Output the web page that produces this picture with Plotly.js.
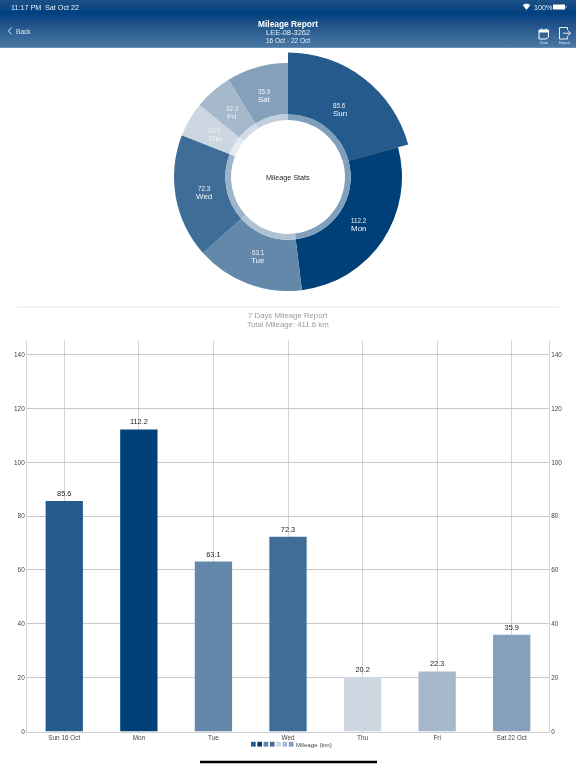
<!DOCTYPE html>
<html>
<head>
<meta charset="utf-8">
<script src="https://cdn.plot.ly/plotly-3.0.1.min.js"></script>
<style>
html,body{margin:0;padding:0;background:#fff;width:576px;height:768px;overflow:hidden}
#band{position:absolute;left:0;top:0;width:576px;height:48px;
background:linear-gradient(to bottom,#1c5186 0px,#004080 13px,#1f5288 24px,#4a78a4 47px,#7f9fbf 48px)}
#chart{position:absolute;left:0;top:0;width:576px;height:768px;filter:blur(0.3px)}
</style>
</head>
<body>
<div id="band"></div>
<div id="chart"></div>
<script>
const days = ["Sun","Mon","Tue","Wed","Thu","Fri","Sat"];
const barLabels = ["Sun 16 Oct","Mon","Tue","Wed","Thu","Fri","Sat 22 Oct"];
const mileage = [85.6,112.2,63.1,72.3,20.2,22.3,35.9];
const colors = ["#255b8c","#004079","#6388aa","#3e6e97","#ccd7e1","#a6b9cc","#85a0bb"];
const ringColors = ["#7f9fbc","#7f9fbc","#afc2d3","#9cb5cb","#e5ebf0","#d2dce5","#c0cfdd"];
const yTicks = [0,20,40,60,80,100,120,140];

const W = 576, H = 768, FONT = "'Liberation Sans', Arial, sans-serif";
const cx = 288, cy = 177;
const px = x => x / W, py = y => 1 - y / H;
const dom = r => ({x:[px(cx-r),px(cx+r)], y:[py(cy+r),py(cy-r)]});
const total = mileage.reduce((a,b)=>a+b,0);

function pie(r, hole, cols){
  return {type:"pie", values:mileage, labels:days, sort:false, direction:"clockwise", rotation:0,
    domain:dom(r), hole:hole, textinfo:"none", hoverinfo:"label+value", showlegend:false,
    automargin:false, marker:{colors:cols, line:{width:0}}};
}
const clear = "rgba(0,0,0,0)";
const traces = [
  pie(114, 62.7/114, colors),
  pie(124.5, 62.7/124.5, colors.map((c,i)=> i===0 ? c : clear)),
  pie(62.7, 57/62.7, ringColors),
  {type:"bar", x:barLabels, y:mileage, width:0.5, marker:{color:colors, line:{width:0}},
   text:mileage.map(v=>v.toFixed(1)), textposition:"outside", cliponaxis:false,
   textfont:{family:FONT,size:7.4,color:"#222"}, showlegend:false, xaxis:"x", yaxis:"y"},
  {type:"bar", x:barLabels, y:mileage, width:0.5, marker:{color:clear}, hoverinfo:"skip",
   showlegend:false, xaxis:"x", yaxis:"y2"}
];

const note = (x,y,text,size,color,extra) => Object.assign({xref:"paper",yref:"paper",x:px(x),y:py(y),
  text:text,showarrow:false,xanchor:"center",yanchor:"middle",
  font:{family:FONT,size:size,color:color}},extra||{});

const annotations = [
  note(9,7,"11:17 PM",7.2,"#e8eef5",{xanchor:"left"}),
  note(42.5,7,"Sat Oct 22",7.2,"#e8eef5",{xanchor:"left"}),
  note(532,7,"100%",7.2,"#e8eef5",{xanchor:"left"}),
  note(13.5,31,"Back",6.6,"#dfe7f0",{xanchor:"left"}),
  note(288,24,"<b>Mileage Report</b>",8.4,"#ffffff"),
  note(288,32.5,"LEE-08-3262",7.5,"#e8eef5"),
  note(288,40,"16 Oct - 22 Oct",6.5,"#e8eef5"),
  note(544,43,"Date",3.8,"#dfe7f0"),
  note(565,43,"Export",3.8,"#dfe7f0"),
  note(288,177.5,"Mileage Stats",7.2,"#222222"),
  note(288,315,"7 Days Mileage Report",7.8,"#9a9a9a"),
  note(288,324,"Total Mileage: 411.6 km",7.8,"#9a9a9a"),
  note(293.5,744.5,"Mileage (km)",6.2,"#444444",{xanchor:"left"})
];
let run = 0;
mileage.forEach((v,i)=>{
  const a = (run + v/2) / total * 2 * Math.PI; run += v;
  const lx = cx + 85*Math.sin(a), ly = cy - 85*Math.cos(a);
  annotations.push(note(lx, ly-4, v.toFixed(1), 6.3, "#eef2f6"));
  annotations.push(note(lx, ly+4, days[i], 8, "#f4f6f9"));
});

const rect = (x0,y0,x1,y1,fill) => ({type:"rect",xref:"paper",yref:"paper",
  x0:px(x0),x1:px(x1),y0:py(y0),y1:py(y1),fillcolor:fill,line:{width:0},layer:"above"});
const path = (d,color,w,fill) => ({type:"path",xref:"paper",yref:"paper",layer:"above",path:d,
  line:{color:color,width:w},fillcolor:fill||clear});
const P = pts => pts.map((p,i)=>(i?"L":"M")+px(p[0])+","+py(p[1])).join(" ");

const shapes = [
  rect(17,306.6,559,307.6,"#e6e6e6"),
  rect(200,760.8,377,763.2,"#000000"),
  /* battery */
  rect(553,4.5,565,9.5,"#ffffff"),
  rect(565.6,6,566.4,8,"#cfdbe7"),
  /* wifi */
  path(P([[523,5.2],[525,4],[528,4],[530,5.2],[526.5,9.6],[523,5.2]]),"#ffffff",0.5,"#ffffff"),
  /* back chevron */
  path(P([[11.5,27.5],[8.5,31],[11.5,34.5]]),"#dfe7f0",1),
  /* date icon */
  path(P([[539,30],[548.5,30],[548.5,37],[546,39],[539,39],[539,30]]),"#ffffff",1),
  rect(539,30,548.5,32.5,"#ffffff"),
  path(P([[541.5,28.5],[541.5,30]]),"#ffffff",1),
  path(P([[546,28.5],[546,30]]),"#ffffff",1),
  /* export icon */
  path(P([[567.5,30],[567.5,27.5],[559.5,27.5],[559.5,39],[567.5,39],[567.5,36.5]]),"#ffffff",0.9),
  path(P([[563,33.2],[570.5,33.2]]),"#ffffff",0.9),
  path(P([[567.7,30.4],[570.5,33.2],[567.7,36]]),"#ffffff",0.9)
];
colors.forEach((c,i)=>{
  const x = 251 + i*6.3;
  shapes.push(rect(x,741.8,x+4.7,746.6,c));
});

const axisBase = {range:[0,145.6], tickvals:yTicks, ticktext:yTicks.map(String), domain:[py(731.5),py(339.5)],
  tickfont:{family:FONT,size:6.4,color:"#444"}, ticks:"", showline:true, linecolor:"#d4d4d4", linewidth:1,
  anchor:"x", zeroline:false, fixedrange:true};

const layout = {
  width:W, height:H, margin:{l:0,r:0,t:0,b:0,pad:0}, showlegend:false, autosize:false,
  paper_bgcolor:"rgba(0,0,0,0)", plot_bgcolor:"rgba(0,0,0,0)", barmode:"overlay",
  xaxis:{domain:[px(27),px(549)], type:"category", categoryorder:"array", categoryarray:barLabels,
    range:[-0.5,6.5], showgrid:true, gridcolor:"#d4d4d4", gridwidth:1, showline:true, linecolor:"#cfcfcf",
    linewidth:1, ticks:"", tickfont:{family:FONT,size:6.4,color:"#444"}, anchor:"y", fixedrange:true, tickangle:0},
  yaxis:Object.assign({},axisBase,{side:"left",showgrid:true,gridcolor:"#c9c9c9",gridwidth:1}),
  yaxis2:Object.assign({},axisBase,{side:"right",overlaying:"y",showgrid:false}),
  annotations:annotations, shapes:shapes
};
Plotly.newPlot("chart",traces,layout,{displayModeBar:false,staticPlot:true});
</script>
</body>
</html>
